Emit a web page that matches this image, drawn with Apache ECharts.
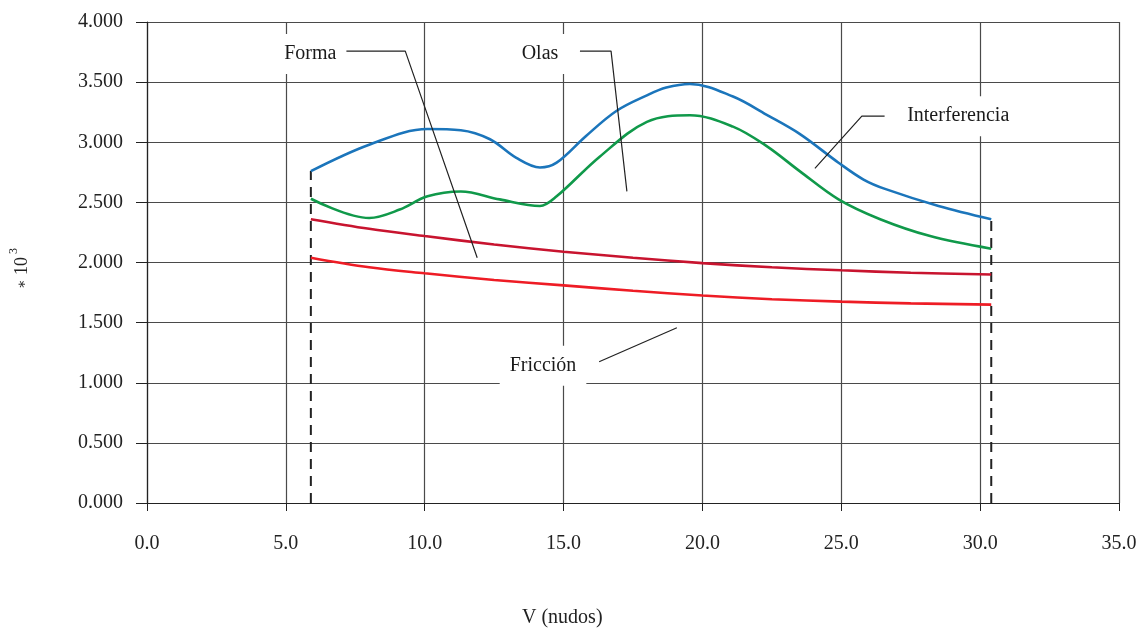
<!DOCTYPE html>
<html>
<head>
<meta charset="utf-8">
<script src="https://cdn.jsdelivr.net/npm/echarts@6/dist/echarts.min.js"></script>
<style>html,body{margin:0;padding:0;background:#fff}#c{width:1140px;height:630px}</style>
</head>
<body>
<div id="c"></div>
<script>
// Speed (knots) vs resistance (*10^3)
const totalWithInterference = [[5.9,2.76],[8.0,2.98],[10.1,3.11],[11.3,3.10],[12.35,3.025],[13.3,2.87],[14.15,2.79],[14.75,2.83],[15.8,3.05],[16.9,3.26],[18.0,3.39],[18.7,3.455],[19.55,3.485],[21.1,3.38],[22.3,3.23],[23.5,3.07],[24.9,2.83],[25.8,2.69],[26.6,2.61],[28.5,2.47],[30.4,2.36]];
const totalWaves = [[5.9,2.53],[8.0,2.37],[9.1,2.44],[10.1,2.55],[11.3,2.59],[12.7,2.525],[14.15,2.47],[14.75,2.55],[16.3,2.88],[18.0,3.17],[19.55,3.225],[21.1,3.13],[22.3,2.97],[23.5,2.76],[24.9,2.525],[26.4,2.36],[28.2,2.22],[30.4,2.115]];
const formFriction = [[5.9,2.36],[8.0,2.28],[10.0,2.22],[12.5,2.15],[15.0,2.09],[17.5,2.04],[20.0,1.995],[22.5,1.96],[25.0,1.935],[27.5,1.915],[30.4,1.90]];
const friction = [[5.9,2.04],[8.0,1.96],[10.0,1.91],[12.5,1.855],[15.0,1.81],[17.5,1.765],[20.0,1.725],[22.5,1.695],[25.0,1.675],[27.5,1.66],[30.4,1.65]];

const xTicks = [0,5,10,15,20,25,30,35];
const yTicks = [0,0.5,1,1.5,2,2.5,3,3.5,4];

const annotationTexts = ['Forma','Olas','Interferencia','Fricción'];
const annotationAt = [[5.88,3.733],[14.15,3.733],[29.21,3.217],[14.26,1.142]];
const leaderLines = [
  [[7.14,3.758],[9.30,3.758],[11.89,2.04]],
  [[15.59,3.758],[16.71,3.758],[17.28,2.592]],
  [[26.56,3.217],[25.74,3.217],[24.05,2.783]],
  [[16.28,1.175],[19.08,1.458]]
];

const FONT = '"Liberation Serif", "DejaVu Serif", serif';
const curveColors = ['#1b75bb','#10994a','#c8142f','#ee1c25'];
const curves = [totalWithInterference,totalWaves,formFriction,friction];

const series = [];
curves.forEach((d,i)=>{
  series.push({type:'line',data:d,smooth:0.35,symbol:'none',z:3,
    lineStyle:{color:curveColors[i],width:2.6},silent:true});
});
const first = totalWithInterference[0], last = totalWithInterference[totalWithInterference.length-1];
[[first[0],first[1]],[last[0],last[1]]].forEach(p=>{
  series.push({type:'line',data:[[p[0],0],[p[0],p[1]]],symbol:'none',silent:true,z:2,
    lineStyle:{color:'#222',width:2,type:[10,7]}});
});
leaderLines.forEach(l=>{
  series.push({type:'line',data:l,symbol:'none',silent:true,z:4,
    lineStyle:{color:'#222',width:1.2}});
});
series.push({type:'scatter',symbolSize:0,silent:true,z:5,
  itemStyle:{opacity:1},
  data:annotationAt.map((p,i)=>({name:annotationTexts[i],value:p})),
  label:{show:true,position:'inside',formatter:p=>p.name,color:'#1a1a1a',opacity:1,
    fontFamily:FONT,fontSize:20,backgroundColor:'#fff',padding:[10,10]}});

const chart = echarts.init(document.getElementById('c'));
chart.setOption({
  animation:false,
  backgroundColor:'#fff',
  grid:{left:147,right:21,top:22,bottom:127},
  xAxis:{type:'value',min:0,max:35,interval:5,
    axisLine:{lineStyle:{color:'#222',width:1.2}},
    axisTick:{show:true,length:8,lineStyle:{color:'#222'}},
    axisLabel:{margin:31,color:'#222',fontFamily:FONT,fontSize:20,formatter:v=>v.toFixed(1)},
    splitLine:{show:true,lineStyle:{color:'#4a4a4a',width:1.2}}},
  yAxis:{type:'value',min:0,max:4,interval:0.5,
    axisLine:{show:true,lineStyle:{color:'#222',width:1.2}},
    axisTick:{show:true,length:11,lineStyle:{color:'#222'}},
    axisLabel:{margin:24,color:'#222',fontFamily:FONT,fontSize:20,formatter:v=>v.toFixed(3)},
    splitLine:{show:true,lineStyle:{color:'#4a4a4a',width:1.2}}},
  graphic:[
    {type:'text',left:522,top:608,style:{text:'V (nudos)',fill:'#222',font:'20px '+FONT}},
    {type:'group',x:22,y:266,rotation:Math.PI/2,children:[
      {type:'text',x:-18,y:0,style:{text:'∗',fill:'#222',font:'14px '+FONT,verticalAlign:'middle',align:'center'}},
      {type:'text',x:0,y:0,style:{text:'10',fill:'#222',font:'18px '+FONT,verticalAlign:'middle',align:'center'}},
      {type:'text',x:15,y:-8,style:{text:'3',fill:'#222',font:'12px '+FONT,verticalAlign:'middle',align:'center'}}
    ]}
  ],
  series:series
});
</script>
</body>
</html>
